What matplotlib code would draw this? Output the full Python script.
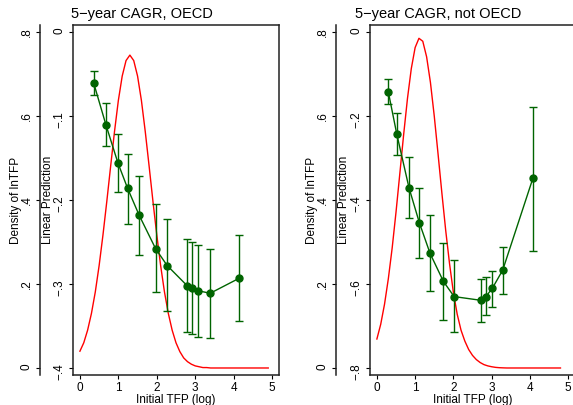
import matplotlib.pyplot as plt

plt.rcParams['font.family'] = ['Liberation Sans', 'DejaVu Sans']

# kernel density of initial TFP
dens_x_oecd = [0.0, 0.1, 0.2, 0.3, 0.4, 0.5, 0.6, 0.7, 0.8, 0.9,
               1.0, 1.1, 1.2, 1.3, 1.4, 1.5, 1.6, 1.7, 1.8, 1.9,
               2.0, 2.1, 2.2, 2.3, 2.4, 2.5, 2.6, 2.7, 2.8, 2.9,
               3.0, 3.1, 3.2, 3.3, 3.4, 3.5, 3.6, 3.7, 3.8, 3.9,
               4.0, 4.1, 4.2, 4.3, 4.4, 4.5, 4.6, 4.7, 4.8, 4.9]
dens_oecd = [0.040, 0.060, 0.090, 0.130, 0.181, 0.244, 0.317, 0.397, 0.481, 0.563,
             0.637, 0.695, 0.732, 0.745, 0.732, 0.695, 0.637, 0.563, 0.481, 0.397,
             0.317, 0.244, 0.181, 0.130, 0.090, 0.060, 0.039, 0.024, 0.015, 0.009,
             0.005, 0.003, 0.001, 0.001, 0.0, 0.0, 0.0, 0.0, 0.0, 0.0,
             0.0, 0.0, 0.0, 0.0, 0.0, 0.0, 0.0, 0.0, 0.0, 0.0]

dens_x_non = [0.0, 0.1, 0.2, 0.3, 0.4, 0.5, 0.6, 0.7, 0.8, 0.9,
              1.0, 1.1, 1.2, 1.3, 1.4, 1.5, 1.6, 1.7, 1.8, 1.9,
              2.0, 2.1, 2.2, 2.3, 2.4, 2.5, 2.6, 2.7, 2.8, 2.9,
              3.0, 3.1, 3.2, 3.3, 3.4, 3.5, 3.6, 3.7, 3.8, 3.9,
              4.0, 4.1, 4.2, 4.3, 4.4, 4.5, 4.6, 4.7, 4.8]
dens_non = [0.069, 0.104, 0.152, 0.213, 0.286, 0.371, 0.463, 0.556, 0.642, 0.713,
            0.763, 0.785, 0.778, 0.741, 0.680, 0.600, 0.509, 0.416, 0.327, 0.248,
            0.180, 0.128, 0.090, 0.064, 0.044, 0.030, 0.020, 0.013, 0.008, 0.005,
            0.003, 0.0015, 0.0007, 0.0003, 0.0, 0.0, 0.0, 0.0, 0.0, 0.0,
            0.0, 0.0, 0.0, 0.0, 0.0, 0.0, 0.0, 0.0, 0.0]

# linear prediction with confidence intervals
tfp_oecd = [0.36, 0.68, 0.99, 1.24, 1.54, 1.97, 2.27, 2.79, 2.91, 3.07, 3.39, 4.15]
fit_oecd = [-0.061, -0.111, -0.156, -0.186, -0.218, -0.258, -0.278, -0.302, -0.305, -0.308, -0.311, -0.293]
hi_oecd = [-0.046, -0.085, -0.121, -0.145, -0.171, -0.205, -0.223, -0.247, -0.250, -0.254, -0.258, -0.242]
lo_oecd = [-0.075, -0.136, -0.191, -0.228, -0.265, -0.310, -0.332, -0.357, -0.360, -0.363, -0.364, -0.344]

tfp_non = [0.30, 0.52, 0.84, 1.11, 1.39, 1.74, 2.02, 2.73, 2.85, 3.02, 3.29, 4.08]
fit_non = [-0.143, -0.243, -0.371, -0.454, -0.527, -0.594, -0.630, -0.639, -0.630, -0.610, -0.567, -0.348]
hi_non = [-0.113, -0.194, -0.298, -0.371, -0.436, -0.503, -0.544, -0.588, -0.583, -0.568, -0.511, -0.178]
lo_non = [-0.172, -0.293, -0.444, -0.539, -0.617, -0.686, -0.714, -0.690, -0.675, -0.654, -0.623, -0.521]

dens_ticks = [0, 0.2, 0.4, 0.6, 0.8]
dens_labels = ['0', '.2', '.4', '.6', '.8']
lp_ticks_oecd = [-0.4, -0.3, -0.2, -0.1, 0]
lp_labels_oecd = ['\u2212.4', '\u2212.3', '\u2212.2', '\u2212.1', '0']
lp_ticks_non = [-0.8, -0.6, -0.4, -0.2, 0]
lp_labels_non = ['\u2212.8', '\u2212.6', '\u2212.4', '\u2212.2', '0']
x_ticks = [0, 1, 2, 3, 4, 5]

W, H = 573, 405
GREEN = '#006400'
TICK_FS = 8.5
LABEL_FS = 8.5


def panel(rect, dx, dy, tx, fit, lo, hi, lp_ticks, lp_labels, lp_lim, out_px, lab_pos):
    ax = fig.add_axes(rect)
    ax.plot(dx, dy, color='red', lw=1.0, zorder=1)
    ax.set_xlim(-0.18, 5.18)
    ax.set_ylim(-0.0167, 0.8167)
    ax.set_xticks(x_ticks)
    ax.set_yticks(dens_ticks)
    ax.set_yticklabels(dens_labels)
    ax.spines['left'].set_position(('outward', out_px * 72 / 100))
    for s in ax.spines.values():
        s.set_linewidth(1.1)
        s.set_color('#222222')
    ax.tick_params(length=3.2, width=0.8, labelsize=TICK_FS, pad=2)
    ax.tick_params(axis='y', labelrotation=90)
    ax.set_xlabel('Initial TFP (log)', fontsize=LABEL_FS, labelpad=0)
    ax.set_ylabel('Density of lnTFP', fontsize=LABEL_FS)
    ax.yaxis.set_label_coords(lab_pos[0], 0.5)

    ax2 = ax.twinx()
    ax2.set_ylim(*lp_lim)
    ax2.yaxis.set_ticks_position('left')
    ax2.yaxis.set_label_position('left')
    for k in ['top', 'right', 'bottom']:
        ax2.spines[k].set_visible(False)
    ax2.spines['left'].set_linewidth(1.1)
    ax2.spines['left'].set_color('#222222')
    ax2.set_yticks(lp_ticks)
    ax2.set_yticklabels(lp_labels)
    ax2.tick_params(length=3.2, width=0.8, labelsize=TICK_FS, pad=2, labelrotation=90)
    ax2.set_ylabel('Linear Prediction', fontsize=LABEL_FS)
    ax2.yaxis.set_label_coords(lab_pos[1], 0.5)

    err = [[f - l for f, l in zip(fit, lo)], [h - f for f, h in zip(fit, hi)]]
    ax2.errorbar(tx, fit, yerr=err, fmt='none', ecolor=GREEN, elinewidth=1.0,
                 capsize=2.8, capthick=1.0)
    ax2.plot(tx, fit, color=GREEN, lw=1.0, marker='o', markersize=5)
    return ax, ax2


fig = plt.figure(figsize=(W / 100, H / 100), dpi=100)

panel([73 / W, 30 / H, 206 / W, 350 / H], dens_x_oecd, dens_oecd,
      tfp_oecd, fit_oecd, lo_oecd, hi_oecd, lp_ticks_oecd, lp_labels_oecd,
      (-0.4083, 0.0083), 33, (-0.248, -0.092))
panel([370 / W, 30 / H, 205 / W, 350 / H], dens_x_non, dens_non,
      tfp_non, fit_non, lo_non, hi_non, lp_ticks_non, lp_labels_non,
      (-0.8167, 0.0167), 34, (-0.256, -0.098))

fig.text(142 / W, 1 - 14 / H, '5\u2212year CAGR, OECD', ha='center', va='center', fontsize=10.5)
fig.text(438.5 / W, 1 - 14 / H, '5\u2212year CAGR, not OECD', ha='center', va='center', fontsize=10.5)

fig.savefig('out.png', dpi=100)
